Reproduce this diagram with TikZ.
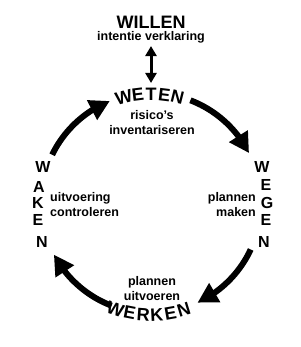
\documentclass[tikz,border=0pt]{standalone}
\usepackage{fontspec}
\setmainfont{Liberation Sans}
\usetikzlibrary{arrows.meta,bending}
\begin{document}
\begin{tikzpicture}[x=1pt,y=1pt,
    bigletter/.style={font=\fontsize{18}{18}\selectfont\bfseries, inner sep=0pt},
    sideletter/.style={font=\fontsize{16}{16}\selectfont\bfseries, inner sep=0pt},
    subtext/.style={font=\fontsize{12.5}{15}\selectfont\bfseries, inner sep=0pt},
    cyclearrow/.style={line width=6pt, -{Triangle[length=20pt,width=21pt]}},
    dblarrow/.style={line width=3pt, {Triangle[length=10pt,width=11pt]}-{Triangle[length=10pt,width=11pt]}}]
  \useasboundingbox (0,0) rectangle (300,347);
  \coordinate (c) at (151,144);
  % top: willen
  \node[bigletter] (willen) at (151,325) {WILLEN};
  \node[subtext] (intentie) at (151,310) {intentie verklaring};
  \coordinate (wetentop) at (151,264);
  \draw[dblarrow] ([yshift=-3pt]intentie.south) -- (wetentop);
  % weten, letters along the circle
  \foreach \l/\a [count=\i] in {W/104.5, E/97, T/90, E/83, N/76}
    \node[bigletter, rotate=\a-90] (weten\i) at ([shift={(\a:109)}]c) {\l};
  \node[subtext, align=center] (risico) at (152,224.5) {risico's\\inventariseren};
  % werken
  \foreach \l/\a [count=\i] in {W/251.5, E/259, R/266, K/273, E/280, N/287}
    \node[bigletter, rotate=\a+90] (werken\i) at ([shift={(\a:112)}]c) {\l};
  \node[subtext, align=center] (uitvoeren) at (152,58) {plannen\\uitvoeren};
  % waken and wegen
  \foreach \l/\x/\y [count=\i] in {W/43/180, A/39/160, K/38/144, E/38/127, N/42/105}
    \node[sideletter] (waken\i) at (\x,\y) {\l};
  \foreach \l/\x/\y [count=\i] in {W/262/180, E/266/162, G/267/144, E/266/127, N/264/105}
    \node[sideletter] (wegen\i) at (\x,\y) {\l};
  \node[subtext, anchor=west, align=left] (controle) at (50,142) {uitvoering\\controleren};
  \node[subtext, anchor=east, align=right] (maken) at (256,142) {plannen\\maken};
  % the four arrows of the cycle
  \draw[cyclearrow] ([shift={(154:110)}]c) arc[start angle=154, end angle=112, radius=110];
  \draw[cyclearrow] ([shift={(69:110)}]c) arc[start angle=69, end angle=27, radius=110];
  \draw[cyclearrow] ([shift={(-25:110)}]c) arc[start angle=-25, end angle=-65, radius=110];
  \draw[cyclearrow] ([shift={(249:110)}]c) arc[start angle=249, end angle=208, radius=110];
\end{tikzpicture}
\end{document}
